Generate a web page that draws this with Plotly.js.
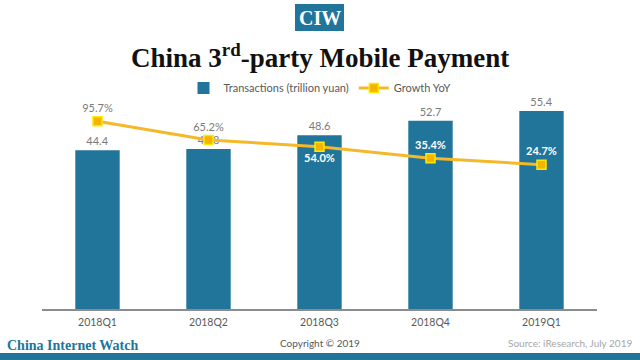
<!DOCTYPE html>
<html>
<head>
<meta charset="utf-8">
<script src="https://cdn.plot.ly/plotly-3.0.1.min.js"></script>
<style>html,body{margin:0;padding:0;background:#fff;}#chart{width:640px;height:360px;}</style>
</head>
<body>
<div id="chart"></div>
<script>
const categories = ["2018Q1", "2018Q2", "2018Q3", "2018Q4", "2019Q1"];
const transactions = [44.4, 44.8, 48.6, 52.7, 55.4];
const growthYoY = [95.7, 65.2, 54.0, 35.4, 24.7];
const growthLabelPos = ["top center", "top center", "bottom center", "top center", "top center"];
const growthLabelColor = ["#7a7a7a", "#7a7a7a", "#ffffff", "#ffffff", "#ffffff"];
const growthLabelBold = [false, false, true, true, true];

const blue = "#21759b";
const traces = [
  {
    type: "bar", name: "Transactions (trillion yuan)",
    x: categories, y: transactions,
    marker: {color: blue},
    text: transactions.map(v => v.toFixed(1)),
    textposition: "outside",
    textfont: {family: "Lato", size: 11, color: "#7a7a7a"},
    cliponaxis: false,
    hoverinfo: "none"
  },
  {
    type: "scatter", mode: "lines+markers+text", name: "Growth YoY",
    x: categories, y: growthYoY, yaxis: "y2",
    line: {color: "#f4b92a", width: 3},
    marker: {symbol: "square", size: 9, color: "#f5b400", line: {color: "#ffe800", width: 1.5}},
    text: growthYoY.map((v, i) => growthLabelBold[i] ? "<b>" + v.toFixed(1) + "%</b>" : v.toFixed(1) + "%"),
    textposition: growthLabelPos,
    textfont: {family: "Lato", size: 11, color: growthLabelColor},
    cliponaxis: false,
    hoverinfo: "none"
  }
];

const layout = {
  width: 640, height: 360,
  margin: {l: 42, r: 43, t: 100, b: 51},
  paper_bgcolor: "#ffffff", plot_bgcolor: "#ffffff",
  showlegend: true,
  bargap: 0.6,
  legend: {
    orientation: "h", x: 0.5, xanchor: "center", y: 1.057, yanchor: "middle",
    font: {family: "Lato", size: 11, color: "#595959"},
    itemwidth: 30, traceorder: "normal"
  },
  xaxis: {
    type: "category", showline: true, linecolor: "#8c8c8c", linewidth: 1.5,
    ticks: "", showgrid: false, zeroline: false, ticklabelstandoff: 3,
    tickfont: {family: "Lato", size: 10.5, color: "#595959"}
  },
  yaxis: {range: [0, 58.48], visible: false, showgrid: false, zeroline: false},
  yaxis2: {range: [-211.4, 130.5], overlaying: "y", side: "right", visible: false, showgrid: false, zeroline: false},
  shapes: [
    {type: "rect", xref: "paper", yref: "paper",
     x0: (295 - 42) / 555, x1: (344 - 42) / 555, y0: (309 - 31) / 209, y1: (309 - 4) / 209,
     fillcolor: blue, line: {width: 0}, layer: "below"},
    {type: "rect", xref: "paper", yref: "paper",
     x0: -42 / 555, x1: 598 / 555, y0: (309 - 360) / 209, y1: (309 - 353) / 209,
     fillcolor: blue, line: {width: 0}, layer: "below"}
  ],
  annotations: [
    {text: "<b>CIW</b>", xref: "paper", yref: "paper", x: (319.5 - 42) / 555, y: (309 - 18) / 209,
     xanchor: "center", yanchor: "middle", showarrow: false,
     font: {family: "Liberation Serif", size: 20, color: "#ffffff"}},
    {text: "<b>China 3<sup>rd</sup>-party Mobile Payment</b>", xref: "paper", yref: "paper",
     x: (319.5 - 42) / 555, y: (309 - 56) / 209, xanchor: "center", yanchor: "middle", showarrow: false,
     font: {family: "Liberation Serif", size: 27, color: "#111111"}},
    {text: "<b>China Internet Watch</b>", xref: "paper", yref: "paper",
     x: -37 / 555, y: (309 - 345) / 209, xanchor: "left", yanchor: "middle", showarrow: false,
     font: {family: "Liberation Serif", size: 14, color: blue}},
    {text: "Copyright © 2019", xref: "paper", yref: "paper",
     x: (320 - 42) / 555, y: (309 - 343) / 209, xanchor: "center", yanchor: "middle", showarrow: false,
     font: {family: "Lato", size: 10, color: "#595959"}},
    {text: "Source: iResearch, July 2019", xref: "paper", yref: "paper",
     x: (634 - 42) / 555, y: (309 - 343) / 209, xanchor: "right", yanchor: "middle", showarrow: false,
     font: {family: "Lato", size: 10, color: "#a6a6a6"}}
  ]
};

Plotly.newPlot("chart", traces, layout, {staticPlot: true, displayModeBar: false});
</script>
</body>
</html>
